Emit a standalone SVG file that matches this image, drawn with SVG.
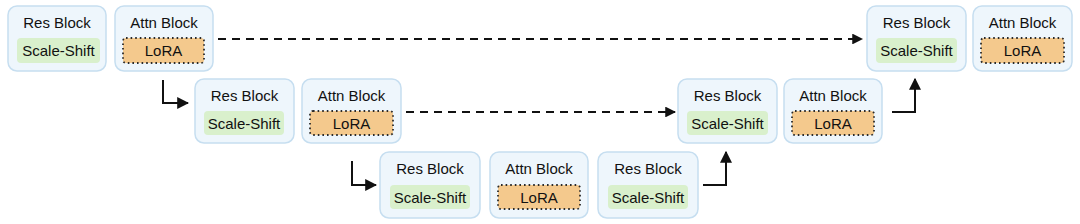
<svg xmlns="http://www.w3.org/2000/svg" width="1080" height="224" viewBox="0 0 1080 224">
<style>
.box{fill:#eef6fc;stroke:#c6def0;stroke-width:1.5}
.ss{fill:#d9f0cc}
.lora{fill:#f4c98d;stroke:#2a2a2a;stroke-width:1.8;stroke-dasharray:1.6 3}
.t{font-family:"Liberation Sans",Arial,sans-serif;font-size:15px;fill:#111;text-anchor:middle}
.ln{fill:none;stroke:#111;stroke-width:2}
.dash{fill:none;stroke:#111;stroke-width:1.8;stroke-dasharray:8 6}
</style>
<defs>
<marker id="ah" viewBox="0 0 10 10" refX="9" refY="5" markerWidth="6" markerHeight="6" orient="auto" markerUnits="strokeWidth">
<path d="M0,0 L10,5 L0,10 z" fill="#111"/>
</marker>
</defs>
<g id="r1-res"><rect class="box" x="8" y="6" width="98" height="65" rx="9"/><text class="t" x="57" y="28">Res Block</text><rect class="ss" x="17" y="38" width="83" height="25" rx="4"/><text class="t" x="58.5" y="56">Scale-Shift</text></g>
<g id="r1-attn"><rect class="box" x="115" y="6" width="98" height="65" rx="9"/><text class="t" x="164" y="28">Attn Block</text><rect class="lora" x="123" y="38" width="81" height="25" rx="3"/><text class="t" x="163.5" y="56">LoRA</text></g>
<g id="r2-res"><rect class="box" x="195" y="79" width="99" height="64" rx="9"/><text class="t" x="244.5" y="101">Res Block</text><rect class="ss" x="204" y="111" width="80" height="24" rx="4"/><text class="t" x="244" y="128.5">Scale-Shift</text></g>
<g id="r2-attn"><rect class="box" x="302" y="79" width="99" height="64" rx="9"/><text class="t" x="351.5" y="101">Attn Block</text><rect class="lora" x="310" y="111" width="83" height="24" rx="3"/><text class="t" x="351.5" y="128.5">LoRA</text></g>
<g id="r3-res1"><rect class="box" x="380" y="152" width="100" height="66" rx="9"/><text class="t" x="430" y="174">Res Block</text><rect class="ss" x="390" y="185" width="80" height="24" rx="4"/><text class="t" x="430" y="202.5">Scale-Shift</text></g>
<g id="r3-attn"><rect class="box" x="490" y="152" width="98" height="66" rx="9"/><text class="t" x="539" y="174">Attn Block</text><rect class="lora" x="498" y="185" width="82" height="24" rx="3"/><text class="t" x="539" y="202.5">LoRA</text></g>
<g id="r3-res2"><rect class="box" x="598" y="152" width="100" height="66" rx="9"/><text class="t" x="648" y="174">Res Block</text><rect class="ss" x="608" y="185" width="80" height="24" rx="4"/><text class="t" x="648" y="202.5">Scale-Shift</text></g>
<g id="r2r-res"><rect class="box" x="678" y="79" width="99" height="64" rx="9"/><text class="t" x="727.5" y="101">Res Block</text><rect class="ss" x="687" y="111" width="81" height="24" rx="4"/><text class="t" x="727.5" y="128.5">Scale-Shift</text></g>
<g id="r2r-attn"><rect class="box" x="784" y="79" width="98" height="64" rx="9"/><text class="t" x="833" y="101">Attn Block</text><rect class="lora" x="792" y="111" width="82" height="24" rx="3"/><text class="t" x="833" y="128.5">LoRA</text></g>
<g id="r1r-res"><rect class="box" x="867" y="6" width="99" height="65" rx="9"/><text class="t" x="916.5" y="28">Res Block</text><rect class="ss" x="876" y="38" width="81" height="25" rx="4"/><text class="t" x="916.5" y="56">Scale-Shift</text></g>
<g id="r1r-attn"><rect class="box" x="973" y="6" width="99" height="65" rx="9"/><text class="t" x="1022.5" y="28">Attn Block</text><rect class="lora" x="981" y="38" width="83" height="25" rx="3"/><text class="t" x="1022.5" y="56">LoRA</text></g>
<g id="connectors">
<path class="ln" d="M163,80 V103 H188" marker-end="url(#ah)"/>
<path class="ln" d="M352,161 V185 H376" marker-end="url(#ah)"/>
<path class="ln" d="M703,185 H726 V152" marker-end="url(#ah)"/>
<path class="ln" d="M892,112 H915 V79" marker-end="url(#ah)"/>
<path class="dash" d="M218,39 H862" marker-end="url(#ah)"/>
<path class="dash" d="M406,112 H675" marker-end="url(#ah)"/>
</g>
</svg>
